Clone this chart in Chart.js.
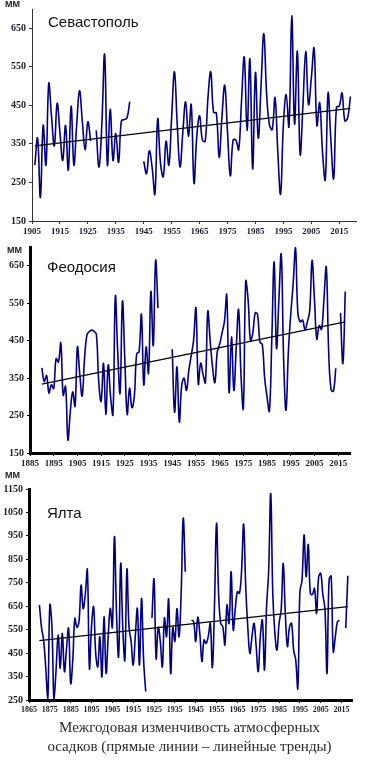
<!DOCTYPE html>
<html><head><meta charset="utf-8">
<script src="https://cdn.jsdelivr.net/npm/chart.js@4/dist/chart.umd.min.js"></script>
<style>
html,body{margin:0;padding:0;background:#fff;}
body{width:379px;height:761px;position:relative;overflow:hidden;}
canvas{position:absolute;left:0;}
.t{position:absolute;font-family:"Liberation Sans",Arial,sans-serif;font-size:15px;line-height:15px;color:#111;white-space:nowrap;}
.mm{position:absolute;font-family:"Liberation Sans",Arial,sans-serif;font-weight:bold;font-size:9px;line-height:9px;color:#1a1a2e;}
.cap{position:absolute;left:0;width:379px;text-align:center;font-family:"Liberation Serif","Times New Roman",serif;font-size:15px;line-height:19px;color:#2a2a2a;white-space:nowrap;}
</style></head><body>
<canvas id="c1" width="379" height="240" style="top:0px"></canvas>
<canvas id="c2" width="379" height="232" style="top:238px"></canvas>
<canvas id="c3" width="379" height="245" style="top:470px"></canvas>
<div class="mm" style="left:5px;top:0px">ММ</div>
<div class="mm" style="left:7px;top:246px">ММ</div>
<div class="mm" style="left:5px;top:471px">ММ</div>
<div class="t" style="left:48px;top:14px">Севастополь</div>
<div class="t" style="left:47px;top:259px">Феодосия</div>
<div class="t" style="left:47px;top:505px">Ялта</div>
<div class="cap" style="top:718px">Межгодовая изменчивость атмосферных<br>осадков (прямые линии – линейные тренды)</div>
<script>
// ---- Севастополь (annual precipitation, mm), from 1906 ----
const sevStartYear = 1906;
const sevValues = [
 295,365,211,398,295,507,420,345,455,380,   // 1906-1915
 307,398,282,448,295,400,488,410,335,407,   // 1916-1925
 357,null,385,290,400,582,295,440,307,377,  // 1926-1935
 302,410,413,417,460,null,null,null,null,305, // 1936-1945
 273,332,290,220,415,300,265,357,295,420,   // 1946-1955
 537,400,290,380,459,370,452,248,370,423,   // 1956-1965
 360,357,470,537,432,430,315,420,502,380,   // 1966-1975
 267,360,360,335,460,575,385,570,285,535,   // 1976-1985
 365,500,636,480,400,387,470,330,220,400,   // 1986-1995
 478,395,682,402,590,323,450,590,452,520,   // 1996-2005
 598,398,457,330,257,482,360,260,445,448,   // 2006-2015
 482,410,417,473                            // 2016-2019
];
const sevTrendYears = [1906, 2019];
const sevTrendValues = [345, 442];
const sevXTicks = [1905,1915,1925,1935,1945,1955,1965,1975,1985,1995,2005,2015];
const sevYTicks = [150,250,350,450,550,650];

// ---- Феодосия, from 1890 ----
const feoStartYear = 1890;
const feoValues = [
 377,341,357,310,332,322,402,393,444,304,   // 1890-1899
 328,185,260,313,275,433,360,302,400,465,   // 1900-1909
 474,478,475,467,340,288,389,253,385,300,   // 1910-1919
 253,568,420,310,555,400,253,323,271,300,   // 1920-1929
 415,420,520,332,433,363,581,437,664,537,   // 1930-1939
 null,null,null,null,null,427,259,380,233,330, // 1940-1949
 350,317,370,410,450,537,334,390,360,338,   // 1950-1959
 528,450,380,338,420,440,470,500,572,312,   // 1960-1969
 460,317,430,533,360,269,608,560,450,470,   // 1970-1979
 524,520,446,440,350,300,262,450,660,430,   // 1980-1989
 560,680,400,264,420,520,600,698,524,500,   // 1990-1999
 505,480,500,530,664,560,454,490,480,560,   // 2000-2009
 646,420,319,315,376,null,524,389,581       // 2010-2018
];
const feoTrendYears = [1890, 2018];
const feoTrendValues = [334, 500];
const feoXTicks = [1885,1895,1905,1915,1925,1935,1945,1955,1965,1975,1985,1995,2005,2015];
const feoYTicks = [150,250,350,450,550,650];

// ---- Ялта, from 1870 ----
const yalStartYear = 1870;
const yalValues = [
 655,560,506,392,250,655,563,250,380,527,   // 1870-1879
 385,534,371,470,556,321,420,598,560,584,   // 1880-1889
 740,640,700,805,385,563,648,450,392,520,   // 1890-1899
 349,605,364,520,641,560,947,620,435,833,   // 1900-1909
 560,420,808,560,500,399,520,640,399,684,   // 1910-1919
 420,286,null,null,600,765,427,560,500,392, // 1920-1929
 600,520,680,364,560,500,640,520,700,1025,  // 1930-1939
 797,null,null,591,585,499,603,530,414,506, // 1940-1949
 492,520,577,389,650,1004,700,577,563,485,  // 1950-1959
 655,577,797,549,640,712,705,800,1000,733,  // 1960-1969
 560,449,520,577,480,371,520,591,378,648,   // 1970-1979
 800,1130,700,534,463,577,634,833,620,478,  // 1980-1989
 560,577,463,420,300,712,760,954,776,913,   // 1990-1999
 705,700,726,620,776,790,700,640,364,762,   // 2000-2009
 778,456,520,584,590,null,null,556,780      // 2010-2018
];
const yalTrendYears = [1870, 2018];
const yalTrendValues = [503, 648];
const yalXTicks = [1865,1875,1885,1895,1905,1915,1925,1935,1945,1955,1965,1975,1985,1995,2005,2015];
const yalYTicks = [250,350,450,550,650,750,850,950,1050,1150];

function pts(start, vals){ return vals.map((v,i)=>({x:start+i, y:v})); }
function trendPts(ys, vs){ return ys.map((y,i)=>({x:y, y:vs[i]})); }

function panel(id, o){
  const axisCol = o.axisColor;
  new Chart(document.getElementById(id), {
    type:'line',
    data:{datasets:[
      {data:trendPts(o.trendYears,o.trendValues), borderColor:'#000', borderWidth:1.3, pointRadius:0, tension:0},
      {data:pts(o.start,o.values), borderColor:'#000080', borderWidth:1.6, pointRadius:0, tension:0.4, spanGaps:false}
    ]},
    options:{
      responsive:false, animation:false, devicePixelRatio:1,
      layout:{padding:{top:o.padTop, right:o.padRight, left:0, bottom:0}},
      plugins:{legend:{display:false}, tooltip:{enabled:false}},
      scales:{
        x:{type:'linear', min:o.xmin, max:o.xmax,
          afterBuildTicks:s=>{s.ticks=o.xticks.map(v=>({value:v}));},
          afterFit:s=>{s.height=o.xh;},
          grid:{display:true, drawOnChartArea:false, drawTicks:true, tickLength:3, color:axisCol, lineWidth:1},
          border:{display:true, color:axisCol, width:o.bw},
          ticks:{autoSkip:false, maxRotation:0, minRotation:0, padding:o.xpad, color:'#1c1c2c',
            font:{family:'"Liberation Serif"', weight:'bold', size:o.xfs}, callback:v=>String(v)}
        },
        y:{type:'linear', min:o.ymin, max:o.ymax,
          afterBuildTicks:s=>{s.ticks=o.yticks.map(v=>({value:v}));},
          afterFit:s=>{s.width=o.yw;},
          grid:{display:true, drawOnChartArea:false, drawTicks:true, tickLength:3, color:axisCol, lineWidth:1},
          border:{display:true, color:axisCol, width:o.bw},
          ticks:{padding:3, color:'#1c1c2c', font:{family:'"Liberation Serif"', weight:'bold', size:10}, callback:v=>String(v)}
        }
      }
    }
  });
}

panel('c1',{start:sevStartYear, values:sevValues, trendYears:sevTrendYears, trendValues:sevTrendValues,
  xmin:1905, xmax:2021, ymin:150, ymax:700, xticks:sevXTicks, yticks:sevYTicks,
  padTop:1, padRight:23, yw:32, xh:19, bw:1, axisColor:'#333', xfs:9, xpad:2});
panel('c2',{start:feoStartYear, values:feoValues, trendYears:feoTrendYears, trendValues:feoTrendValues,
  xmin:1885, xmax:2020, ymin:150, ymax:700, xticks:feoXTicks, yticks:feoYTicks,
  padTop:7, padRight:29, yw:30, xh:17, bw:3, axisColor:'#000', xfs:9, xpad:2});
panel('c3',{start:yalStartYear, values:yalValues, trendYears:yalTrendYears, trendValues:yalTrendValues,
  xmin:1865, xmax:2020, ymin:250, ymax:1150, xticks:yalXTicks, yticks:yalYTicks,
  padTop:19, padRight:27, yw:29, xh:15, bw:3, axisColor:'#000', xfs:8, xpad:2});
</script>
</body></html>
